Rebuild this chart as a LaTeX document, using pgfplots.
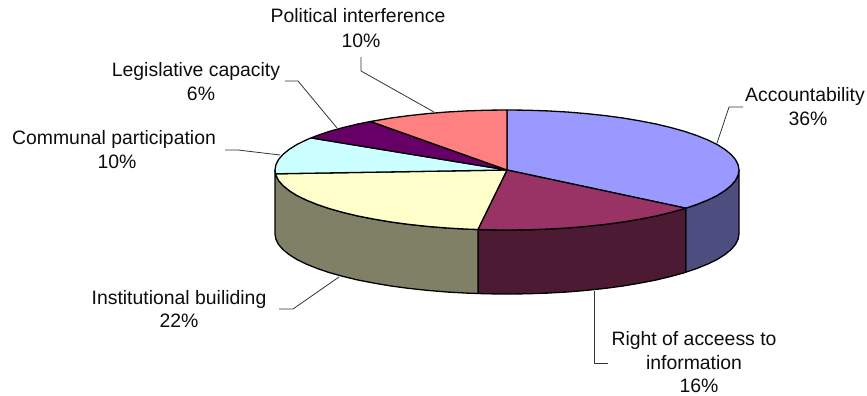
\documentclass[border=0pt]{standalone}
\usepackage{pgfplots}
\pgfplotsset{compat=1.18}
\usepackage{fontspec}
\setmainfont{Liberation Sans}
\definecolor{accTop}{HTML}{9999FF}
\definecolor{accSide}{HTML}{4D4D80}
\definecolor{rightTop}{HTML}{993366}
\definecolor{rightSide}{HTML}{4D1A33}
\definecolor{instTop}{HTML}{FFFFCC}
\definecolor{instSide}{HTML}{808066}
\definecolor{commTop}{HTML}{CCFFFF}
\definecolor{legTop}{HTML}{660066}
\definecolor{polTop}{HTML}{FF8080}
\begin{document}
\begin{tikzpicture}[
  slice/.style={draw=black,line width=1.3pt,line join=round,no markers},
  leader/.style={draw=black!80,line width=0.8pt,line join=round,no markers},
  lab/.style={anchor=base,inner sep=0pt,outer sep=0pt,font=\fontsize{19.4}{23}\selectfont,text=black!95}
]
\begin{axis}[
  hide axis,
  scale only axis,
  width=867pt,height=396pt,
  xmin=0,xmax=867,ymin=0,ymax=396,
  y dir=reverse,
  clip=false,
]
% keep the whole plotting area in the page
\path (axis cs:0,0) rectangle (axis cs:867,396);
% side walls of the disc, visible from t=90 to t=270
\addplot[slice,fill=accSide] coordinates {
 (739,170) (738.1,175.2) (735.5,180.4) (731.1,185.5) (725,190.5) (717.3,195.4)
 (707.9,200) (697,204.4) (685.8,208.2)
 (685.8,272.2) (697,268.4) (707.9,264) (717.3,259.4) (725,254.5) (731.1,249.5)
 (735.5,244.4) (738.1,239.2) (739,234)} -- cycle;
\addplot[slice,fill=rightSide] coordinates {
 (685.8,208.2) (684.7,208.6) (671,212.4) (656.1,216) (640.1,219.1) (623,222)
 (605,224.4) (586.3,226.4) (567,228) (547.3,229.1) (527.2,229.8) (507,230)
 (486.8,229.8) (477.9,229.5)
 (477.9,293.5) (486.8,293.8) (507,294) (527.2,293.8) (547.3,293.1) (567,292)
 (586.3,290.4) (605,288.4) (623,286) (640.1,283.1) (656.1,280) (671,276.4)
 (684.7,272.6) (685.8,272.2)} -- cycle;
\addplot[slice,fill=instSide] coordinates {
 (477.9,229.5) (466.7,229.1) (447,228) (427.7,226.4) (409,224.4) (391,222)
 (373.9,219.1) (357.9,216) (343,212.4) (329.3,208.6) (317,204.4) (306.1,200)
 (296.7,195.4) (289,190.5) (282.9,185.5) (278.5,180.4) (275.9,175.2) (275.5,173.8) (275,170)
 (275,234) (275.9,239.2) (278.5,244.4) (282.9,249.5) (289,254.5) (296.7,259.4)
 (306.1,264) (317,268.4) (329.3,272.6) (343,276.4) (357.9,280) (373.9,283.1)
 (391,286) (409,288.4) (427.7,290.4) (447,292) (466.7,293.1) (477.9,293.5)} -- cycle;
% top face: Accountability 36, Right of access 16, Institutional 22,
% Communal 10, Legislative 6, Political 10
\addplot[slice,fill=accTop] coordinates {
 (507,170) (507,110) (527.2,110.2) (547.3,110.9) (567,112) (586.3,113.6) (605,115.6)
 (623,118) (640.1,120.9) (656.1,124) (671,127.6) (684.7,131.4) (697,135.6)
 (707.9,140) (717.3,144.6) (725,149.5) (731.1,154.5) (735.5,159.6) (738.1,164.8)
 (739,170) (738.1,175.2) (735.5,180.4) (731.1,185.5) (725,190.5) (717.3,195.4)
 (707.9,200) (697,204.4) (685.8,208.2)} -- cycle;
\addplot[slice,fill=rightTop] coordinates {
 (507,170) (685.8,208.2) (684.7,208.6) (671,212.4) (656.1,216) (640.1,219.1) (623,222)
 (605,224.4) (586.3,226.4) (567,228) (547.3,229.1) (527.2,229.8) (507,230)
 (486.8,229.8) (477.9,229.5)} -- cycle;
\addplot[slice,fill=instTop] coordinates {
 (507,170) (477.9,229.5) (466.7,229.1) (447,228) (427.7,226.4) (409,224.4) (391,222)
 (373.9,219.1) (357.9,216) (343,212.4) (329.3,208.6) (317,204.4) (306.1,200)
 (296.7,195.4) (289,190.5) (282.9,185.5) (278.5,180.4) (275.9,175.2) (275.5,173.8)} -- cycle;
\addplot[slice,fill=commTop] coordinates {
 (507,170) (275.5,173.8) (275,170) (275.9,164.8) (278.5,159.6) (282.9,154.5) (289,149.5)
 (296.7,144.6) (306.1,140) (311.1,137.9)} -- cycle;
\addplot[slice,fill=legTop] coordinates {
 (507,170) (311.1,137.9) (317,135.6) (329.3,131.4) (343,127.6) (357.9,124) (370.6,121.5)} -- cycle;
\addplot[slice,fill=polTop] coordinates {
 (507,170) (370.6,121.5) (373.9,120.9) (391,118) (409,115.6) (427.7,113.6) (447,112)
 (466.7,110.9) (486.8,110.2) (507,110)} -- cycle;
% leader lines
\addplot[leader] coordinates {(717,143) (729,107) (743,107)};
\addplot[leader] coordinates {(594,291) (594,363) (608,363)};
\addplot[leader] coordinates {(339,277) (293,309) (279,309)};
\addplot[leader] coordinates {(280,155) (238,150) (225,150)};
\addplot[leader] coordinates {(337,128) (298,81) (285,81)};
\addplot[leader] coordinates {(434,112) (361,71) (361,57)};
% labels
\node[lab] at (axis cs:805,101.7) {Accountability};
\node[lab] at (axis cs:808,125) {36\%};
\node[lab] at (axis cs:694,345) {Right of acceess to};
\node[lab] at (axis cs:694,369) {information};
\node[lab] at (axis cs:699,392.7) {16\%};
\node[lab] at (axis cs:179,304) {Institutional builiding};
\node[lab] at (axis cs:179,327) {22\%};
\node[lab] at (axis cs:114,144) {Communal participation};
\node[lab] at (axis cs:117,168) {10\%};
\node[lab] at (axis cs:196,76) {Legislative capacity};
\node[lab] at (axis cs:201,100) {6\%};
\node[lab] at (axis cs:358,23) {Political interference};
\node[lab] at (axis cs:361,47.3) {10\%};
\end{axis}
\end{tikzpicture}
\end{document}
